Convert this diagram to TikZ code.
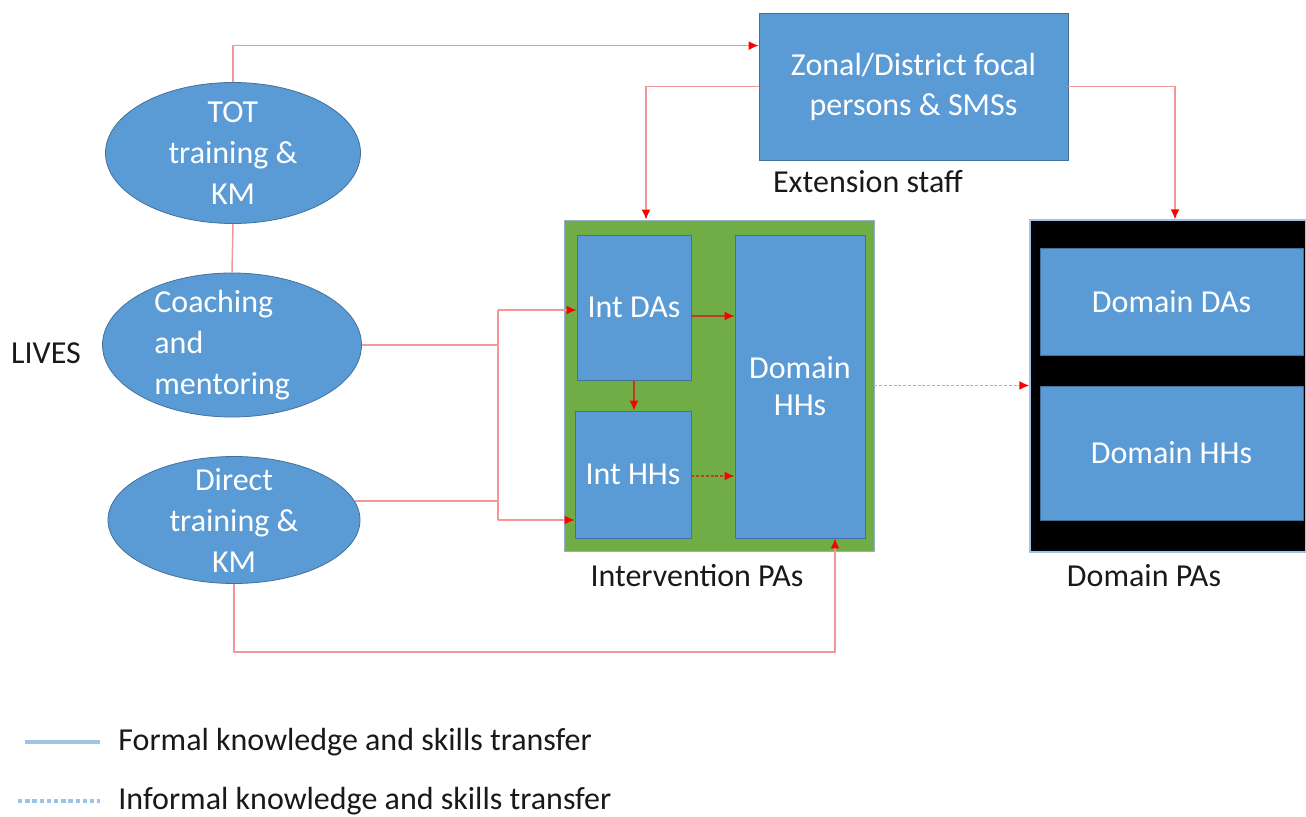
\documentclass[tikz,border=0pt]{standalone}
\usepackage{fontspec}
\setmainfont{Carlito}
\usetikzlibrary{arrows.meta,shapes.geometric,positioning}
\definecolor{officeblue}{RGB}{91,155,213}
\definecolor{officeblueline}{RGB}{65,113,156}
\definecolor{officegreen}{RGB}{112,173,71}
\definecolor{legendblue}{RGB}{157,195,230}
\definecolor{flowred}{RGB}{246,150,150}
\definecolor{innerred}{RGB}{190,60,40}

\begin{document}
\begin{tikzpicture}[x=0.5pt,y=-0.5pt,
   ell/.style={ellipse,draw=officeblueline,fill=officeblue,line width=0.4pt,inner sep=0pt},
   intext/.style={text=white,font=\fontsize{16}{20.5}\selectfont,align=center,inner sep=0pt},
   bluebox/.style={rectangle,draw=officeblueline,fill=officeblue,line width=0.4pt,inner sep=0pt,
               text=white,font=\fontsize{16}{20}\selectfont,align=center},
   lbl/.style={font=\fontsize{16}{19}\selectfont,text=black!90,inner sep=1pt},
   flow/.style={draw=flowred,line width=0.75pt},
   inflow/.style={draw=innerred,line width=0.7pt},
   arr/.style={-{Latex[length=5pt,width=4.5pt,color=red]}},
   informal/.style={dash pattern=on 1.5pt off 0.9pt,line width=0.9pt}]
  \useasboundingbox (0,0) rectangle (1306,817);

  % LIVES activities
  \node[lbl] (lives) at (46,353) {LIVES};
  \node[ell,minimum width=127.5pt,minimum height=70.5pt] (tot) at (233,153) {};
  \node[intext] (tottxt) at (tot) {TOT\\training \&\\KM};
  \node[ell,minimum width=129.5pt,minimum height=72pt] (coach) at (232,345) {};
  \node[intext,align=left,anchor=west] (coachtxt) at (154,345) {Coaching\\and\\mentoring};
  \node[ell,minimum width=126pt,minimum height=63.5pt] (direct) at (234,520) {};
  \node[intext] (directtxt) at (direct) {Direct\\training \&\\KM};

  % extension staff
  \node[bluebox,minimum width=154.5pt,minimum height=73.5pt] (zonal) at (913.5,86.5)
       {Zonal/District focal\\persons \& SMSs};
  \node[lbl] (extlbl) at (868,182) {Extension staff};

  % intervention PAs
  \node[rectangle,draw=legendblue!70!gray,fill=officegreen,line width=0.4pt,
        minimum width=155pt,minimum height=165.5pt] (intpa) at (719,385.5) {};
  \node[bluebox,minimum width=57pt,minimum height=72.5pt] (intda) at (634,307.5) {Int DAs};
  \node[bluebox,minimum width=58pt,minimum height=63.5pt] (inthh) at (633,474.5) {Int HHs};
  \node[bluebox,minimum width=65pt,minimum height=151.5pt,font=\fontsize{16}{18.5}\selectfont]
       (domhh) at (800,386.5) {Domain\\HHs};
  \node[lbl] (intlbl) at (697,576) {Intervention PAs};

  % domain PAs
  \node[rectangle,draw=legendblue,fill=black,line width=0.6pt,
        minimum width=138pt,minimum height=166pt] (dompa) at (1168,386) {};
  \node[bluebox,minimum width=131.5pt,minimum height=53.5pt] (domda) at (1171.5,301.5) {Domain DAs};
  \node[bluebox,minimum width=131.5pt,minimum height=67pt] (domhhs) at (1171.5,453) {Domain HHs};
  \node[lbl] (domlbl) at (1144,576) {Domain PAs};

  % connectors
  \draw[flow,arr] (tot.north) |- ([yshift=-16.5pt]zonal.north west);
  \draw[flow] (tot.south) -- (coach.north);
  \draw[flow,arr] (zonal.west) -| ([xshift=-36.5pt]intpa.north);
  \draw[flow,arr] (zonal.east) -| ([xshift=3.5pt]dompa.north);
  \coordinate (bustop) at (498,310);
  \coordinate (busbot) at (498,520);
  \draw[flow] (coach.east) -- (coach.east -| bustop);
  \draw[flow] (direct.9) -- (direct.9 -| bustop);
  \draw[flow] (bustop) -- (busbot);
  \draw[flow,arr] (bustop) -- (intda.west |- bustop);
  \draw[flow,arr] (busbot) -- (inthh.west |- busbot);
  \draw[inflow,arr] ([yshift=-4.25pt]intda.east) -- ([yshift=-4.25pt]intda.east -| domhh.west);
  \draw[inflow,arr] (intda.south) -- (intda.south |- inthh.north);
  \draw[inflow,informal,arr] ([yshift=-0.75pt]inthh.east) -- ([yshift=-0.75pt]inthh.east -| domhh.west);
  \draw[flow,informal,arr] (intpa.east) -- (intpa.east -| dompa.west);
  \draw[flow,arr] (direct.south) -- ++(0,68) -| ([xshift=17.5pt]domhh.south);

  % legend
  \node[lbl,anchor=west] (formal) at (116,742) {Formal knowledge and skills transfer};
  \node[lbl,anchor=west] (informaltxt) at (116,801) {Informal knowledge and skills transfer};
  \coordinate (lgformal) at (25,742);
  \coordinate (lginformal) at (18,801);
  \draw[draw=legendblue,line width=1.6pt] (lgformal) -- ([xshift=-8pt]formal.west);
  \draw[draw=legendblue,line width=1.6pt,dash pattern=on 2.2pt off 1.4pt]
       (lginformal) -- ([xshift=-8pt]informaltxt.west);
\end{tikzpicture}
\end{document}
